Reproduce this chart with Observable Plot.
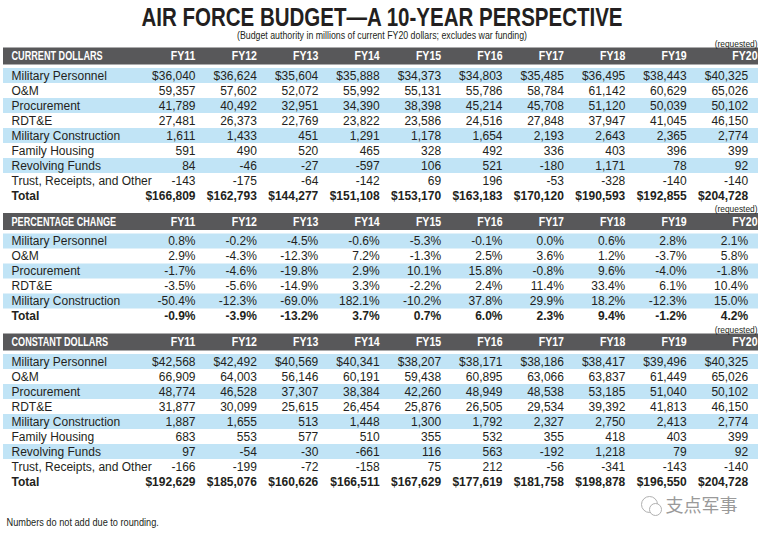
<!DOCTYPE html>
<html><head><meta charset="utf-8">
<script src="https://cdn.jsdelivr.net/npm/d3@7"></script>
<script src="https://cdn.jsdelivr.net/npm/@observablehq/plot@0.6"></script>
<style>html,body{margin:0;padding:0;background:#fff}svg{display:block}</style>
</head><body><div id="chart"></div>
<script>
// ---------- data ----------
const title = "AIR FORCE BUDGET\u2014A 10-YEAR PERSPECTIVE";
const subtitle = "(Budget authority in millions of current FY20 dollars; excludes war funding)";
const footnote = "Numbers do not add due to rounding.";
const watermark = "支点军事";
const requestedNote = "(requested)";
const years = ["FY11","FY12","FY13","FY14","FY15","FY16","FY17","FY18","FY19","FY20"];
const sectionTitles = ["CURRENT DOLLARS","PERCENTAGE CHANGE","CONSTANT DOLLARS"];
const dollarRows = ["Military Personnel","O&M","Procurement","RDT&E","Military Construction","Family Housing","Revolving Funds","Trust, Receipts, and Other","Total"];
const percentRows = ["Military Personnel","O&M","Procurement","RDT&E","Military Construction","Total"];

const currentDollars = [
  [36040,36624,35604,35888,34373,34803,35485,36495,38443,40325],
  [59357,57602,52072,55992,55131,55786,58784,61142,60629,65026],
  [41789,40492,32951,34390,38398,45214,45708,51120,50039,50102],
  [27481,26373,22769,23822,23586,24516,27848,37947,41045,46150],
  [1611,1433,451,1291,1178,1654,2193,2643,2365,2774],
  [591,490,520,465,328,492,336,403,396,399],
  [84,-46,-27,-597,106,521,-180,1171,78,92],
  [-143,-175,-64,-142,69,196,-53,-328,-140,-140],
  [166809,162793,144277,151108,153170,163183,170120,190593,192855,204728]
];
const percentChange = [
  [0.8,-0.2,-4.5,-0.6,-5.3,-0.1,0.0,0.6,2.8,2.1],
  [2.9,-4.3,-12.3,7.2,-1.3,2.5,3.6,1.2,-3.7,5.8],
  [-1.7,-4.6,-19.8,2.9,10.1,15.8,-0.8,9.6,-4.0,-1.8],
  [-3.5,-5.6,-14.9,3.3,-2.2,2.4,11.4,33.4,6.1,10.4],
  [-50.4,-12.3,-69.0,182.1,-10.2,37.8,29.9,18.2,-12.3,15.0],
  [-0.9,-3.9,-13.2,3.7,0.7,6.0,2.3,9.4,-1.2,4.2]
];
const constantDollars = [
  [42568,42492,40569,40341,38207,38171,38186,38417,39496,40325],
  [66909,64003,56146,60191,59438,60895,63066,63837,61449,65026],
  [48774,46528,37307,38384,42260,48949,48538,53185,51040,50102],
  [31877,30099,25615,26454,25876,26505,29534,39392,41813,46150],
  [1887,1655,513,1448,1300,1792,2327,2750,2413,2774],
  [683,553,577,510,355,532,355,418,403,399],
  [97,-54,-30,-661,116,563,-192,1218,79,92],
  [-166,-199,-72,-158,75,212,-56,-341,-143,-140],
  [192629,185076,160626,166511,167629,177619,181758,198878,196550,204728]
];

// ---------- layout ----------
const W = 763, H = 537;
const colRight0 = 195, colPitch = 61.4, labelX = 11, barX1 = 3, barX2 = 758;
const rowPitch = 15, headerToRow = 19.5, rowToHeader = 26, barH = 17;
const firstHeaderY = 56;
const markX = 665, markY = 506;

const loc = d3.formatLocale({decimal: ".", thousands: ",", grouping: [3], currency: ["$", ""], minus: "-"});
const fmtInt = loc.format(",d");
const fmtDollar = loc.format("$,d");
const fmtPct = v => loc.format(".1f")(v) + "%";

const sections = [
  {title: sectionTitles[0], rows: dollarRows, values: currentDollars, kind: "dollar"},
  {title: sectionTitles[1], rows: percentRows, values: percentChange, kind: "pct"},
  {title: sectionTitles[2], rows: dollarRows, values: constantDollars, kind: "dollar"}
];

const bars = [], headText = [], bands = [], labels = [], cells = [], requested = [];
let hy = firstHeaderY;
sections.forEach(s => {
  bars.push({y: hy});
  headText.push({text: s.title, x: labelX, y: hy, anchor: "start"});
  years.forEach((yr, i) => headText.push({text: yr, x: i === years.length - 1 ? barX2 - 1 : colRight0 + i * colPitch, y: hy, anchor: "end"}));
  requested.push({text: requestedNote, y: hy - 13});
  let lastY = hy;
  s.rows.forEach((r, j) => {
    const y = hy + headerToRow + j * rowPitch;
    const total = r === "Total";
    if (j % 2 === 0 && !total) bands.push({y});
    labels.push({text: r, y, total});
    s.values[j].forEach((v, i) => {
      let t;
      if (s.kind === "pct") t = fmtPct(v);
      else t = (j === 0 || total) ? fmtDollar(v) : fmtInt(v);
      cells.push({text: t, x: colRight0 + i * colPitch, y, total});
    });
    lastY = y;
  });
  hy = lastY + rowToHeader;
});

const ink = "#231f20";
const narrow = "'Liberation Sans Narrow', 'Liberation Sans', Arial, sans-serif";
const body = "'Liberation Sans', Arial, sans-serif";

const chart = Plot.plot({
  width: W, height: H,
  margin: 0,
  x: {type: "linear", domain: [0, W], range: [0, W], axis: null},
  y: {type: "linear", domain: [0, H], range: [0, H], axis: null},
  marks: [
    Plot.text([title], {x: () => W / 2, y: () => 17.5, text: d => d, fontFamily: narrow, fontWeight: "bold", fontSize: 25, fill: ink}),
    Plot.text([subtitle], {x: () => W / 2, y: () => 35, text: d => d, fontFamily: narrow, fontSize: 10, fill: ink}),
    Plot.rect(bands, {x1: () => barX1, x2: () => barX2, y1: d => d.y - rowPitch / 2, y2: d => d.y + rowPitch / 2, fill: "#c1e4f6"}),
    Plot.rect(bars, {x1: () => barX1, x2: () => barX2, y1: d => d.y - barH / 2, y2: d => d.y + barH / 2, fill: "#58585a"}),
    Plot.text(headText, {x: "x", y: "y", text: "text", textAnchor: "end", fontFamily: narrow, fontWeight: "bold", fontSize: 12, fill: "white", filter: d => d.anchor === "end"}),
    Plot.text(headText, {x: "x", y: "y", text: "text", textAnchor: "start", fontFamily: narrow, fontWeight: "bold", fontSize: 12, fill: "white", filter: d => d.anchor === "start"}),
    Plot.text(requested, {x: () => barX2 - 1, y: "y", text: "text", textAnchor: "end", fontFamily: narrow, fontSize: 9.5, fill: ink}),
    Plot.text(labels, {x: () => labelX, y: "y", text: "text", textAnchor: "start", fontFamily: body, fontSize: 12, fill: ink, filter: d => !d.total}),
    Plot.text(labels, {x: () => labelX, y: "y", text: "text", textAnchor: "start", fontFamily: body, fontSize: 12, fontWeight: "bold", fill: ink, filter: d => d.total}),
    Plot.text(cells, {x: "x", y: "y", text: "text", textAnchor: "end", fontFamily: body, fontSize: 12, fill: ink, filter: d => !d.total}),
    Plot.text(cells, {x: "x", y: "y", text: "text", textAnchor: "end", fontFamily: body, fontSize: 12, fontWeight: "bold", fill: ink, filter: d => d.total}),
    Plot.text([footnote], {x: () => 6, y: () => 522, text: d => d, textAnchor: "start", fontFamily: narrow, fontSize: 10, fill: ink}),
    // watermark (icon + text)
    Plot.dot([0], {x: () => markX - 16, y: () => markY - 2, r: 8, stroke: "#b0b0b0", strokeWidth: 1}),
    Plot.dot([0], {x: () => markX - 10, y: () => markY + 3, r: 6, stroke: "#b0b0b0", fill: "white", strokeWidth: 1}),
    Plot.text([watermark], {x: () => markX, y: () => markY, text: d => d, textAnchor: "start", fontFamily: "'Noto Sans CJK SC', sans-serif", fontSize: 18, fill: "#9a9a9a"})
  ]
});
document.getElementById("chart").appendChild(chart);

// condense texts (no narrow face installed): scale glyphs horizontally
const squeezeBy = new Map([[title, 0.82], [subtitle, 0.88], [requestedNote, 0.88], [footnote, 0.92]]);
sectionTitles.forEach(t => squeezeBy.set(t, 0.76));
years.forEach(t => squeezeBy.set(t, 0.88));
d3.select(chart).selectAll("text").each(function () {
  const t = this.textContent;
  if (!squeezeBy.has(t)) return;
  const L = this.getComputedTextLength();
  if (!(L > 0)) return;
  this.setAttribute("textLength", (L * squeezeBy.get(t)).toFixed(1));
  this.setAttribute("lengthAdjust", "spacingAndGlyphs");
});
</script>
</body></html>
